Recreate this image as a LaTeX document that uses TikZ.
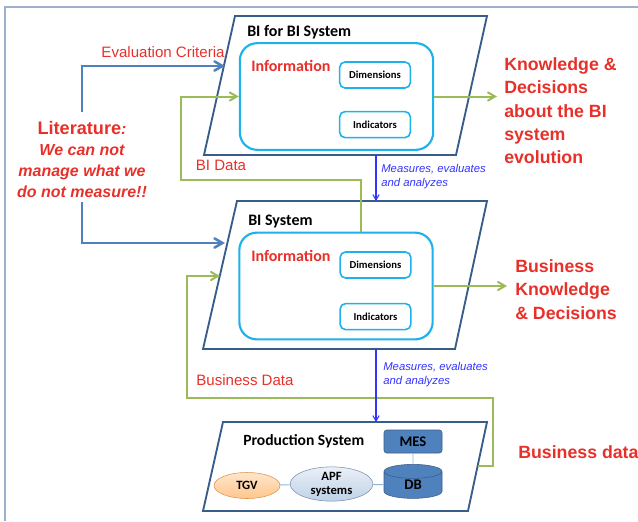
\documentclass[tikz,border=0pt]{standalone}
\usepackage{fontspec}
\setmainfont{Liberation Sans}
\newfontfamily\calibrifont{Carlito}
\usetikzlibrary{positioning, arrows, shapes.geometric}
\definecolor{framegray}{HTML}{9DB0CC}
\definecolor{sysblue}{HTML}{385D8A}
\definecolor{infocyan}{HTML}{1DB2EC}
\definecolor{litblue}{HTML}{4F81BD}
\definecolor{datagreen}{HTML}{9BBB59}
\definecolor{labred}{HTML}{E8302A}
\definecolor{measblue}{HTML}{3333FF}
\definecolor{linkblue}{HTML}{95B3D7}
\tikzset{>=angle 60, x=0.75pt, y=-0.75pt,
  frame/.style={draw=framegray, line width=1.1pt},
  system/.style={draw=sysblue, line width=1.4pt, fill=white},
  info/.style={draw=infocyan, line width=1.6pt, rounded corners=13pt, minimum width=145pt, minimum height=80pt},
  item/.style={draw=infocyan, line width=1.2pt, rounded corners=4pt, minimum width=53pt, minimum height=19.5pt, inner sep=0pt, font=\calibrifont\bfseries\fontsize{8}{9.6}\selectfont},
  title/.style={anchor=base west, inner sep=0pt, font=\calibrifont\bfseries\fontsize{12}{14}\selectfont},
  infotitle/.style={title, text=labred},
  result/.style={anchor=north west, inner sep=0pt, align=left, text=labred, font=\bfseries\fontsize{13.3}{17.6}\selectfont},
  flowlabel/.style={inner sep=0pt, text=labred, font=\fontsize{11.3}{13.5}\selectfont},
  measure/.style={anchor=north west, inner sep=0pt, align=left, text=measblue, font=\itshape\fontsize{8.5}{10.5}\selectfont},
  data/.style={draw=datagreen, line width=1.5pt, ->},
  lit/.style={draw=litblue, line width=1.9pt, ->},
  meas/.style={draw=measblue, line width=0.8pt, ->},
  link/.style={draw=linkblue, line width=0.7pt},
  part/.style={inner sep=0pt, font=\calibrifont\bfseries\fontsize{11}{12}\selectfont},
}

\begin{document}
\begin{tikzpicture}
\useasboundingbox (0,0) rectangle (638,521);
\draw[frame] (5,521) |- (638,7);

% the three systems
\draw[system] (235,16) -- (487,16) -- (456,155) -- (204,155) -- cycle;
\draw[system] (237,201) -- (487,201) -- (455,349) -- (203,349) -- cycle;
\draw[system] (223,422) -- (487,422) -- (468,511) -- (203,511) -- cycle;

% BI for BI System
\node[title] (titleA) at (247,36) {BI for BI System};
\node[info] (infoA) at (336.5,96.5) {};
\node[infotitle] (infA) at (251,71.5) {Information};
\node[item] (dimA) at (375,75) {Dimensions};
\node[item, below=16.5pt of dimA] (indA) {Indicators};

% BI System
\node[title] (titleB) at (248,225) {BI System};
\node[info] (infoB) at (336,286) {};
\node[infotitle] (infB) at (251,261.5) {Information};
\node[item] (dimB) at (375.5,265) {Dimensions};
\node[item, below=18pt of dimB] (indB) {Indicators};

% Production System
\node[title, font=\calibrifont\bfseries\fontsize{11.7}{14}\selectfont] (titleC) at (243,445) {Production System};
\node[part, draw=sysblue, fill=litblue, rounded corners=2pt, minimum width=43.5pt, minimum height=17.25pt] (mes) at (413,441.5) {MES};
\node[part, cylinder, shape border rotate=90, aspect=0.8, draw=sysblue, fill=litblue, minimum width=43.5pt, minimum height=25.5pt] (db) at (413,485) {DB};
\node[part, ellipse, draw=orange!80!black!70, top color=orange!20, bottom color=orange!45, minimum width=49.5pt, minimum height=19.5pt, font=\calibrifont\bfseries\fontsize{9.5}{11}\selectfont] (tgv) at (247,485.5) {TGV};
\node[part, ellipse, draw=linkblue!80!black, top color=linkblue!20, bottom color=linkblue!60, minimum width=62pt, minimum height=24pt, align=center, font=\calibrifont\bfseries\fontsize{9.5}{10.5}\selectfont] (apf) at (331.5,484) {APF\\systems};
\draw[link]
(tgv) edge (apf)
(apf) edge (db)
(mes) edge (db.north);

% texts
\node[align=center, inner sep=0pt, text=labred, font=\bfseries\itshape\fontsize{12}{15.75}\selectfont] (lit) at (82,160) {{\upshape\fontsize{13.6}{15.75}\selectfont Literature}:\\We can not\\manage what we\\do not measure!!};
\node[flowlabel] (evalLabel) at (163,52) {Evaluation Criteria};
\node[flowlabel] (biDataLabel) at (221,165) {BI Data};
\node[flowlabel] (busDataLabel) at (245,380.5) {Business Data};
\node[result] (know) at (504,57) {Knowledge \&\\Decisions\\about the BI\\system\\evolution};
\node[result] (busKnow) at (515,259) {Business\\Knowledge\\\& Decisions};
\node[result] (busData) at (518,445.5) {Business data};
\node[measure] (measA) at (381,164) {Measures, evaluates\\and analyzes};
\node[measure] (measB) at (383,362.5) {Measures, evaluates\\and analyzes};

% connectors
\coordinate (evalTip) at (225,66);
\coordinate (biTip) at (225,243);
\coordinate (knowTip) at (497,96.5);
\coordinate (busKnowTip) at (507,286);
\coordinate (biDataTop) at (361,180);
\coordinate (biDataLeft) at (181,180);
\coordinate (prodOut) at (478,466);
\coordinate (busDataTop) at (493,398);
\coordinate (busDataLeft) at (187,398);
\coordinate (biIn) at (220,276);
\draw[lit] ([yshift=7pt]lit.north) |- (evalTip);
\draw[lit] ([yshift=-3pt]lit.south) |- (biTip);
\draw[data] (infoA.east) -- (knowTip);
\draw[data] (infoB.east) -- (busKnowTip);
\draw[data] (infoB.north -| biDataTop) -- (biDataTop) -- (biDataLeft) |- (infoA.west);
\draw[data] (prodOut) -| (busDataTop) -- (busDataLeft) |- (biIn);
\draw[meas] (376,155) -- (376,201);
\draw[meas] (376,349) -- (376,422);

\end{tikzpicture}
\end{document}
